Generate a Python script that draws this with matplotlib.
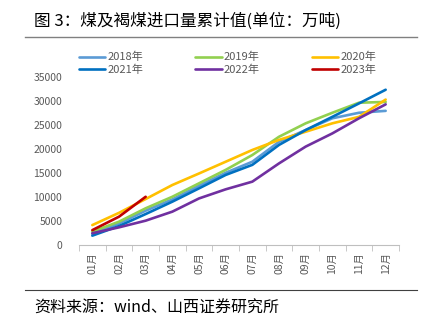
import matplotlib.pyplot as plt
from matplotlib.lines import Line2D

plt.rcParams['font.family'] = ['Noto Sans CJK SC', 'DejaVu Sans']

months = ['01月', '02月', '03月', '04月', '05月', '06月',
          '07月', '08月', '09月', '10月', '11月', '12月']

y2018 = [2300, 4500, 7150, 9500, 12350, 15050, 17350, 21500, 23950, 26400, 27550, 27950]
y2019 = [2780, 4860, 7650, 10050, 12850, 15650, 18750, 22550, 25350, 27550, 29650, 29800]
y2020 = [4150, 6700, 9580, 12500, 14900, 17350, 19800, 21900, 23600, 25350, 26700, 30300]
y2021 = [1950, 3950, 6450, 9030, 11800, 14600, 16700, 20850, 23950, 26700, 29500, 32350]
y2022 = [2450, 3680, 5070, 6950, 9700, 11600, 13200, 17000, 20500, 23250, 26400, 29300]
y2023 = [3100, 5900, 10050]

series = [('2018年', y2018, '#5B9BD5'),
          ('2019年', y2019, '#92D050'),
          ('2020年', y2020, '#FFC000'),
          ('2021年', y2021, '#0070C0'),
          ('2022年', y2022, '#7030A0'),
          ('2023年', y2023, '#C00000')]

fig = plt.figure(figsize=(4.3, 3.24), dpi=100)
ax = fig.add_axes([0.1837, 0.2438, 0.7442, 0.5185])

x = list(range(len(months)))
handles = []
for name, vals, col in series:
    h, = ax.plot(x[:len(vals)], vals, color=col, lw=1.9, label=name, solid_capstyle='round')
    handles.append(h)

ax.set_xlim(-0.5, 11.5)
ax.set_ylim(0, 35000)
ax.set_yticks(range(0, 35001, 5000))
ax.set_xticks(x)
ax.set_xticklabels(months, rotation=90, fontsize=7.5, color='#595959')
ax.set_xticks([i - 0.5 for i in range(13)], minor=True)
ax.tick_params(axis='x', which='major', length=0, pad=5)
ax.tick_params(axis='x', which='minor', length=4, color='#BFBFBF')
ax.tick_params(axis='y', length=0, labelsize=7.5, labelcolor='#595959', pad=12)
for s in ['top', 'right', 'left']:
    ax.spines[s].set_visible(False)
ax.spines['bottom'].set_color('#BFBFBF')

# legend fills column-wise, so reorder to read row by row
order = [0, 3, 1, 4, 2, 5]
fig.legend([handles[i] for i in order], [series[i][0] for i in order],
           ncol=3, loc='upper left', bbox_to_anchor=(0.16, 0.87),
           frameon=False, fontsize=8, handlelength=2.4, handletextpad=0.15,
           columnspacing=4.7, labelspacing=0.15, labelcolor='#595959')

fig.text(0.08, 0.935, '图 3：煤及褐煤进口量累计值(单位：万吨)', fontsize=12, va='center')
fig.add_artist(Line2D([0.058, 0.97], [0.885, 0.885], color='#808080', lw=1))
fig.add_artist(Line2D([0.058, 0.97], [0.105, 0.105], color='#404040', lw=0.8))
fig.text(0.08, 0.048, '资料来源：wind、山西证券研究所', fontsize=11.5, va='center')

fig.savefig('out.png', dpi=100)
